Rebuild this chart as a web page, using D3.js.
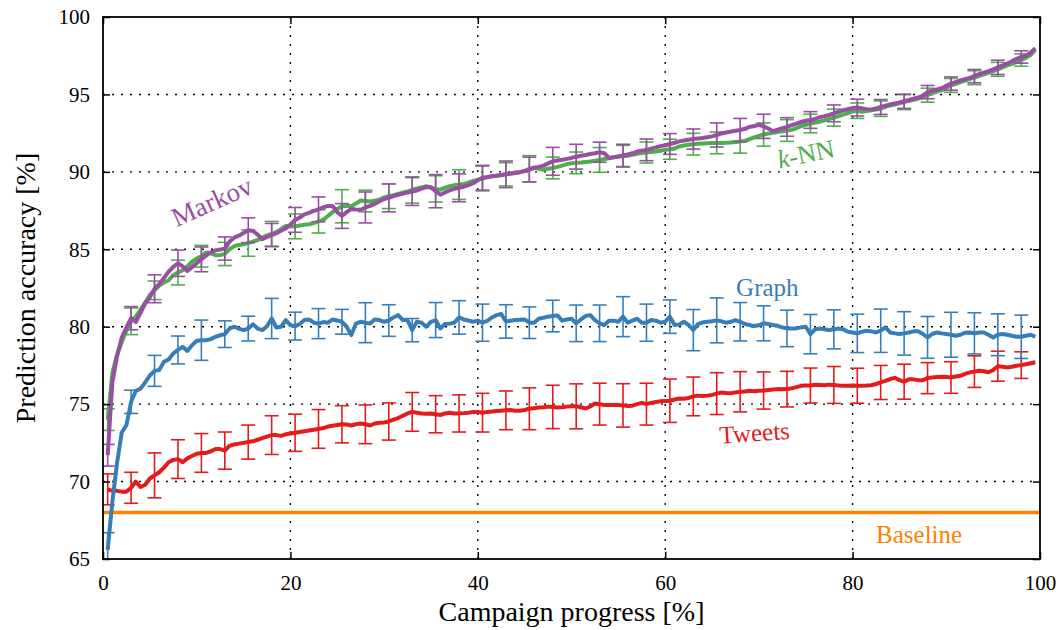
<!DOCTYPE html>
<html>
<head>
<meta charset="utf-8">
<script src="https://cdn.jsdelivr.net/npm/d3@7"></script>
<style>
  body { margin: 0; background: #fff; }
  svg text { font-family: "Liberation Serif", "Times New Roman", serif !important; }
</style>
</head>
<body>
<script>
// sampling grid of the curves: 0.5, 1.0, ... 99.5 (%)
var progress = d3.range(0.5, 100, 0.5);
// error bars sit on every 5th sample (0.5, 3, 5.5, ... 98)
var barStep = 5;

var xTicks = [0, 20, 40, 60, 80, 100];
var yTicks = [65, 70, 75, 80, 85, 90, 95, 100];
var baseline = 68;

var tweets = [
  69.5, 69.4, 69.4, 69.35, 69.35, 69.6, 70.0, 69.65, 69.8, 70.2,
  70.4, 70.6, 70.9, 71.25, 71.4, 71.45, 71.25, 71.5, 71.65, 71.8,
  71.85, 71.85, 71.95, 72.1, 72.1, 72.0, 72.3, 72.4, 72.45, 72.5,
  72.55, 72.6, 72.7, 72.8, 72.9, 73.0, 73.0, 72.95, 73.05, 73.1,
  73.15, 73.2, 73.25, 73.3, 73.35, 73.4, 73.45, 73.55, 73.6, 73.65,
  73.7, 73.68, 73.62, 73.7, 73.75, 73.7, 73.62, 73.75, 73.8, 73.82,
  73.88, 74.0, 74.1, 74.25, 74.4, 74.5, 74.45, 74.4, 74.38, 74.4,
  74.35, 74.3, 74.4, 74.45, 74.4, 74.4, 74.42, 74.45, 74.5, 74.5,
  74.45, 74.5, 74.52, 74.55, 74.58, 74.6, 74.62, 74.58, 74.57, 74.62,
  74.7, 74.74, 74.78, 74.8, 74.84, 74.82, 74.78, 74.8, 74.84, 74.87,
  74.86, 74.8, 74.72, 74.85, 75.04, 75.0, 74.95, 74.94, 74.94, 74.94,
  74.92, 74.88, 74.9, 75.0, 75.08, 75.0, 75.08, 75.14, 75.18, 75.2,
  75.22, 75.3, 75.36, 75.35, 75.4, 75.5, 75.55, 75.52, 75.55, 75.6,
  75.68, 75.75, 75.72, 75.7, 75.76, 75.8, 75.82, 75.86, 75.84, 75.86,
  75.88, 75.92, 75.95, 75.97, 75.96, 75.97, 76.02, 76.1, 76.18, 76.2,
  76.2, 76.25, 76.24, 76.22, 76.26, 76.24, 76.2, 76.19, 76.18, 76.2,
  76.19, 76.19, 76.2, 76.22, 76.3, 76.4, 76.5, 76.62, 76.7, 76.55,
  76.45, 76.6, 76.6, 76.55, 76.55, 76.68, 76.72, 76.75, 76.77, 76.75,
  76.72, 76.78, 76.83, 76.95, 77.05, 77.1, 77.16, 77.12, 77.06, 77.2,
  77.45, 77.42, 77.37, 77.42, 77.48, 77.52, 77.58, 77.64, 77.7
];
var graph = [
  65.6, 68.7, 71.2, 73.17, 73.64, 75.15, 75.85, 76.0, 76.4, 76.85,
  77.15, 77.2, 77.73, 77.88, 78.27, 78.5, 78.7, 78.44, 78.8, 79.1,
  79.13, 79.13, 79.2, 79.35, 79.45, 79.52, 79.88, 80.0, 79.88, 79.78,
  79.88, 80.16, 79.88, 79.78, 80.03, 80.53, 79.95, 80.0, 80.42, 80.1,
  80.04, 80.17, 80.43, 80.47, 80.26, 80.2, 80.3, 80.26, 80.47, 80.4,
  80.32, 80.0, 79.46, 80.2, 80.32, 80.26, 80.2, 80.47, 80.43, 80.32,
  80.4, 80.6, 80.75, 80.43, 80.43, 79.78, 80.32, 80.26, 80.0, 80.32,
  80.43, 79.89, 80.17, 80.2, 80.26, 80.6, 80.47, 80.4, 80.32, 80.38,
  80.26, 80.37, 80.6, 80.75, 80.82, 80.34, 80.39, 80.43, 80.45, 80.47,
  80.26, 80.26, 80.52, 80.58, 80.65, 80.69, 80.73, 80.39, 80.47, 80.52,
  80.22, 80.47, 80.69, 80.75, 80.43, 80.22, 80.11, 80.39, 80.39, 80.32,
  80.65, 80.26, 80.39, 80.52, 80.26, 80.26, 80.43, 80.39, 80.26, 80.32,
  80.65, 80.11, 80.15, 80.32, 80.11, 79.78, 80.17, 80.28, 80.32, 80.35,
  80.41, 80.35, 80.26, 80.32, 80.43, 80.32, 80.17, 80.11, 80.04, 80.09,
  80.22, 80.17, 80.11, 80.06, 79.96, 79.89, 79.89, 79.89, 79.96, 80.0,
  79.52, 79.83, 79.89, 79.83, 79.78, 79.83, 79.89, 79.83, 79.68, 79.63,
  79.57, 79.68, 79.74, 79.7, 79.63, 79.74, 79.96, 79.63, 79.57, 79.53,
  79.57, 79.63, 79.7, 79.7, 79.53, 79.31, 79.53, 79.63, 79.57, 79.53,
  79.48, 79.42, 79.48, 79.61, 79.63, 79.57, 79.63, 79.63, 79.48, 79.31,
  79.48, 79.53, 79.48, 79.42, 79.35, 79.35, 79.42, 79.48, 79.35
];
var knn = [
  74.0, 77.0, 78.2, 79.0, 79.75, 80.35, 80.65, 81.1, 81.55, 82.05,
  82.35, 82.65, 82.85, 83.0, 83.33, 83.5, 83.65, 83.9, 84.2, 84.4,
  84.55, 84.8, 84.75, 84.62, 84.62, 84.7, 85.0, 85.2, 85.28, 85.32,
  85.4, 85.5, 85.6, 85.75, 85.9, 86.0, 86.1, 86.3, 86.52, 86.47,
  86.48, 86.54, 86.58, 86.62, 86.69, 86.8, 86.9, 87.15, 87.4, 87.6,
  87.78, 87.8, 87.8, 87.95, 88.15, 88.12, 88.08, 88.13, 88.2, 88.35,
  88.43, 88.5, 88.58, 88.66, 88.73, 88.83, 88.93, 89.0, 89.07, 88.98,
  88.9, 88.85, 88.98, 89.08, 89.14, 89.18, 89.22, 89.3, 89.42, 89.5,
  89.57, 89.65, 89.72, 89.75, 89.8, 89.84, 89.9, 89.96, 89.99, 90.05,
  90.2, 90.28, 90.2, 90.14, 90.2, 90.25, 90.32, 90.4, 90.5, 90.56,
  90.58, 90.6, 90.64, 90.67, 90.72, 90.77, 90.83, 90.88, 90.94, 90.99,
  91.01, 91.04, 91.1, 91.16, 91.21, 91.25, 91.28, 91.31, 91.36, 91.42,
  91.46, 91.51, 91.64, 91.7, 91.75, 91.79, 91.81, 91.83, 91.85, 91.87,
  91.87, 91.87, 91.88, 91.9, 91.93, 91.96, 92.0, 92.12, 92.22, 92.32,
  92.41, 92.47, 92.52, 92.57, 92.62, 92.67, 92.71, 92.82, 92.95, 93.04,
  93.12, 93.19, 93.24, 93.33, 93.42, 93.5, 93.6, 93.7, 93.8, 93.9,
  93.95, 93.88, 93.93, 93.98, 94.03, 94.08, 94.2, 94.29, 94.35, 94.43,
  94.5, 94.58, 94.65, 94.73, 94.82, 94.95, 95.08, 95.18, 95.28, 95.42,
  95.58, 95.68, 95.8, 95.9, 95.99, 96.08, 96.2, 96.3, 96.4, 96.5,
  96.62, 96.75, 96.87, 96.98, 97.1, 97.22, 97.36, 97.55, 97.87
];
var markov = [
  71.7, 76.4, 78.1, 79.3, 79.95, 80.55, 80.3, 80.9, 81.5, 81.9,
  82.45, 82.75, 83.15, 83.55, 83.87, 84.1, 83.9, 83.6, 83.85, 84.1,
  84.35, 84.6, 84.8, 84.93, 84.98, 85.05, 85.5, 85.75, 85.88, 86.05,
  86.23, 86.18, 85.95, 85.65, 85.8, 85.92, 86.04, 86.2, 86.35, 86.6,
  86.9, 87.05, 87.25, 87.35, 87.48, 87.58, 87.7, 87.8, 87.8, 87.4,
  87.15, 87.4, 87.6, 87.57, 87.55, 87.7, 87.8, 87.93, 88.1, 88.25,
  88.32, 88.43, 88.52, 88.6, 88.66, 88.73, 88.8, 88.92, 89.02, 89.0,
  88.75, 88.52, 88.67, 88.8, 88.9, 88.97, 89.04, 89.15, 89.27, 89.45,
  89.62, 89.66, 89.71, 89.75, 89.79, 89.84, 89.88, 89.93, 89.98, 90.05,
  90.15, 90.25, 90.32, 90.4, 90.55, 90.68, 90.73, 90.78, 90.84, 90.9,
  90.98, 91.04, 91.09, 91.15, 91.2, 91.27, 91.2, 90.9, 90.94, 90.99,
  91.06, 91.12, 91.2, 91.31, 91.37, 91.42, 91.5, 91.58, 91.66, 91.72,
  91.8, 91.88, 91.97, 92.02, 92.07, 92.12, 92.16, 92.19, 92.24, 92.29,
  92.38, 92.48, 92.54, 92.6, 92.65, 92.7, 92.78, 92.9, 92.96, 93.04,
  92.94, 92.8, 92.63, 92.72, 92.82, 92.9, 93.02, 93.12, 93.22, 93.3,
  93.35, 93.42, 93.53, 93.6, 93.68, 93.78, 93.88, 93.98, 94.05, 94.12,
  94.15, 94.1, 94.05, 94.02, 94.1, 94.19, 94.27, 94.35, 94.42, 94.49,
  94.56, 94.64, 94.72, 94.8, 94.93, 95.15, 95.25, 95.32, 95.4, 95.55,
  95.7, 95.8, 95.9, 95.99, 96.07, 96.18, 96.31, 96.41, 96.51, 96.62,
  96.75, 96.87, 97.0, 97.14, 97.3, 97.42, 97.49, 97.7, 97.98
];

// half-widths of the error bars (one per bar)
var tweetsErr = [1.0, 1.0, 1.45, 1.25, 1.25, 1.2, 1.1, 1.25, 1.2, 1.25,
  1.2, 1.25, 1.2, 1.25, 1.2, 1.2, 1.25, 1.25, 1.35, 1.4,
  1.45, 1.35, 1.4, 1.35, 1.4, 1.25, 1.35, 1.3, 1.2, 1.15,
  1.13, 1.19, 1.13, 1.1, 1.13, 1.0, 1.02, 1.02, 0.97, 0.86];
var graphErr = [1.1, 0.75, 1.0, 0.9, 1.3, 0.86, 0.8, 1.3, 0.9, 0.97,
  0.8, 1.29, 1.02, 0.75, 1.13, 1.08, 1.2, 1.08, 1.02, 1.02,
  1.18, 1.18, 1.29, 1.2, 1.08, 1.33, 1.45, 1.24, 1.13, 1.18,
  1.27, 1.26, 1.24, 1.4, 1.4, 1.35, 1.45, 1.33, 1.35, 1.4];
var knnErr = [0.7, 0.86, 0.6, 0.8, 0.7, 0.75, 0.85, 0.8, 0.8, 0.75,
  1.07, 0.7, 0.8, 0.85, 0.85, 0.96, 0.8, 0.75, 0.85, 0.7,
  0.7, 0.8, 0.7, 0.68, 0.65, 0.7, 0.7, 0.75, 0.75, 0.7,
  0.6, 0.55, 0.5, 0.5, 0.48, 0.45, 0.45, 0.45, 0.45, 0.4];
var markovErr = [0.7, 0.75, 0.9, 0.85, 0.8, 0.75, 0.8, 0.75, 0.8, 0.8,
  0.8, 1.0, 0.9, 0.9, 1.07, 0.9, 0.8, 0.86, 0.8, 0.9,
  0.8, 0.65, 0.72, 0.7, 0.67, 0.65, 0.78, 0.75, 0.78, 0.6,
  0.54, 0.54, 0.54, 0.48, 0.46, 0.43, 0.43, 0.43, 0.46, 0.4];

var series = [
  {name: "Tweets", values: tweets, err: tweetsErr, color: "#e41a1c"},
  {name: "Graph", values: graph, err: graphErr, color: "#377eb8"},
  {name: "k-NN", values: knn, err: knnErr, color: "#4daf4a"},
  {name: "Markov", values: markov, err: markovErr, color: "#984ea3"}
];

var svgWidth = 1058;
var svgHeight = 630;
var margin = {top: 17, right: 18, bottom: 71, left: 103};
var width = svgWidth - margin.left - margin.right;
var height = svgHeight - margin.top - margin.bottom;
var serif = "Liberation Serif";

var svg = d3.select("body").append("svg")
  .attr("width", svgWidth)
  .attr("height", svgHeight);

var g = svg.append("g")
  .attr("transform", `translate(${margin.left}, ${margin.top})`);

var x = d3.scaleLinear().domain([0, 100]).range([0, width]);
var y = d3.scaleLinear().domain([65, 100]).range([height, 0]);

g.append("clipPath").attr("id", "plot-clip")
  .append("rect").attr("width", width).attr("height", height);

// dotted grid
g.append("g").selectAll("line")
  .data(xTicks.slice(1, -1))
  .enter().append("line")
  .attr("x1", d => x(d)).attr("x2", d => x(d))
  .attr("y1", 0).attr("y2", height)
  .attr("stroke", "#000").attr("stroke-width", 1.4)
  .attr("stroke-dasharray", "2,7");
g.append("g").selectAll("line")
  .data(yTicks.slice(1, -1))
  .enter().append("line")
  .attr("y1", d => y(d)).attr("y2", d => y(d))
  .attr("x1", 0).attr("x2", width)
  .attr("stroke", "#000").attr("stroke-width", 1.4)
  .attr("stroke-dasharray", "2,7");

var plot = g.append("g").attr("clip-path", "url(#plot-clip)");

// baseline
plot.append("line")
  .attr("x1", x(0)).attr("x2", x(100))
  .attr("y1", y(baseline)).attr("y2", y(baseline))
  .attr("stroke", "#ff7f00").attr("stroke-width", 3.5);

var line = d3.line()
  .x((d, i) => x(progress[i]))
  .y(d => y(d));

var capW = 7;
series.forEach(function(s) {
  var bars = s.err.map(function(e, k) {
    var i = k * barStep;
    return {x: progress[i], lo: s.values[i] - e, hi: s.values[i] + e};
  });
  var eb = plot.append("g")
    .attr("stroke", s.color).attr("stroke-width", 1.6).attr("fill", "none");
  eb.selectAll(".v").data(bars).enter().append("line")
    .attr("x1", d => x(d.x)).attr("x2", d => x(d.x))
    .attr("y1", d => y(d.lo)).attr("y2", d => y(d.hi));
  eb.selectAll(".t").data(bars).enter().append("line")
    .attr("x1", d => x(d.x) - capW).attr("x2", d => x(d.x) + capW)
    .attr("y1", d => y(d.hi)).attr("y2", d => y(d.hi));
  eb.selectAll(".b").data(bars).enter().append("line")
    .attr("x1", d => x(d.x) - capW).attr("x2", d => x(d.x) + capW)
    .attr("y1", d => y(d.lo)).attr("y2", d => y(d.lo));

  plot.append("path")
    .datum(s.values)
    .attr("d", line)
    .attr("fill", "none")
    .attr("stroke", s.color)
    .attr("stroke-width", 4)
    .attr("stroke-linejoin", "round");
});

// axes with inward ticks on all four sides
var tickLen = 7;
g.append("g")
  .attr("transform", `translate(0, ${height})`)
  .call(d3.axisBottom(x).tickValues(xTicks).tickSize(-tickLen).tickSizeOuter(0).tickPadding(16))
  .call(a => a.select(".domain").remove())
  .attr("font-family", serif)
  .selectAll("text").attr("font-size", 21).attr("fill", "#000");
g.append("g")
  .call(d3.axisLeft(y).tickValues(yTicks).tickSize(-tickLen).tickSizeOuter(0).tickPadding(13))
  .call(a => a.select(".domain").remove())
  .attr("font-family", serif)
  .selectAll("text").attr("font-size", 21).attr("fill", "#000");
g.append("g")
  .attr("transform", `translate(${width}, 0)`)
  .call(d3.axisRight(y).tickValues(yTicks).tickSize(-tickLen).tickSizeOuter(0).tickFormat(""))
  .call(a => a.select(".domain").remove());
g.append("g")
  .call(d3.axisTop(x).tickValues(xTicks).tickSize(-tickLen).tickSizeOuter(0).tickFormat(""))
  .call(a => a.select(".domain").remove());
g.selectAll(".tick line").attr("stroke", "#000").attr("stroke-width", 1.5);

g.append("rect")
  .attr("width", width).attr("height", height)
  .attr("fill", "none").attr("stroke", "#000").attr("stroke-width", 1.8);

// axis titles
svg.append("text")
  .attr("x", margin.left + width / 2)
  .attr("y", 621)
  .attr("text-anchor", "middle")
  .attr("font-family", serif)
  .attr("font-size", 28)
  .text("Campaign progress [%]");
svg.append("text")
  .attr("transform", `translate(35, ${margin.top + height / 2}) rotate(-90)`)
  .attr("text-anchor", "middle")
  .attr("font-family", serif)
  .attr("font-size", 28)
  .text("Prediction accuracy [%]");

// curve labels
g.append("text")
  .attr("transform", `translate(${x(12.0)}, ${y(87.55)}) rotate(-24)`)
  .attr("text-anchor", "middle").attr("font-size", 27)
  .attr("font-family", serif)
  .attr("fill", "#984ea3").text("Markov");
var knnLabel = g.append("text")
  .attr("transform", `translate(${x(75.2)}, ${y(90.6)}) rotate(-12)`)
  .attr("text-anchor", "middle").attr("font-size", 26)
  .attr("font-family", serif)
  .attr("fill", "#4daf4a");
knnLabel.append("tspan").attr("font-style", "italic").text("k");
knnLabel.append("tspan").text("-NN");
g.append("text")
  .attr("x", x(70.9)).attr("y", y(82.0))
  .attr("text-anchor", "middle").attr("font-size", 25)
  .attr("font-family", serif)
  .attr("fill", "#377eb8").text("Graph");
g.append("text")
  .attr("transform", `translate(${x(69.6)}, ${y(72.6)}) rotate(-4)`)
  .attr("text-anchor", "middle").attr("font-size", 25)
  .attr("font-family", serif)
  .attr("fill", "#e41a1c").text("Tweets");
g.append("text")
  .attr("x", x(87.1)).attr("y", y(66.05))
  .attr("text-anchor", "middle").attr("font-size", 25)
  .attr("font-family", serif)
  .attr("fill", "#ff7f00").text("Baseline");
</script>
</body>
</html>
